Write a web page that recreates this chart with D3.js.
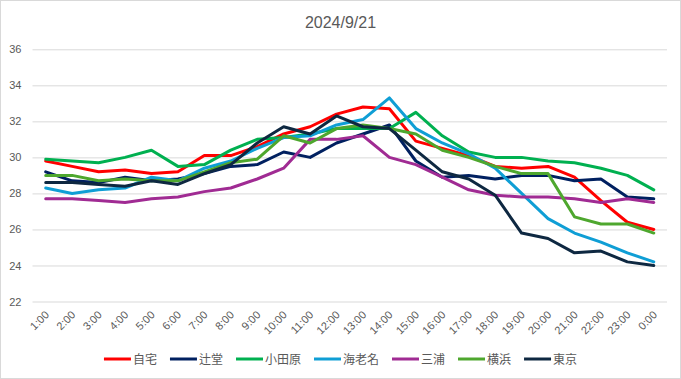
<!DOCTYPE html>
<html><head><meta charset="utf-8">
<script src="https://cdn.jsdelivr.net/npm/d3@7"></script>
<style>
html,body{margin:0;padding:0;background:#fff;}
svg{display:block;font-family:"Liberation Sans",Arial,"Noto Sans CJK JP",sans-serif;}
</style></head>
<body><svg id="c" width="681" height="379"></svg>
<script>
const categories = ["1:00","2:00","3:00","4:00","5:00","6:00","7:00","8:00","9:00","10:00","11:00","12:00","13:00","14:00","15:00","16:00","17:00","18:00","19:00","20:00","21:00","22:00","23:00","0:00"];
const seriesNames = ["自宅","辻堂","小田原","海老名","三浦","横浜","東京"];
const jitaku   = [29.8,29.5,29.2,29.3,29.1,29.2,30.1,30.1,30.6,31.3,31.7,32.4,32.8,32.7,30.9,30.5,30.1,29.5,29.4,29.5,28.9,27.6,26.4,26.0];
const tsujido  = [29.2,28.7,28.6,28.9,28.7,28.8,29.1,29.5,29.6,30.3,30.0,30.8,31.3,31.8,29.8,28.9,29.0,28.8,29.0,29.0,28.7,28.8,27.8,27.7];
const odawara  = [29.9,29.8,29.7,30.0,30.4,29.5,29.6,30.4,31.0,31.1,31.3,31.6,31.6,31.6,32.5,31.2,30.3,30.0,30.0,29.8,29.7,29.4,29.0,28.2];
const ebina    = [28.3,28.0,28.2,28.3,28.9,28.7,29.4,29.8,30.5,31.1,31.2,31.8,32.1,33.3,31.6,30.8,30.2,29.4,28.0,26.6,25.8,25.3,24.7,24.2];
const miura    = [27.7,27.7,27.6,27.5,27.7,27.8,28.1,28.3,28.8,29.4,31.0,31.0,31.2,30.0,29.6,28.9,28.2,27.9,27.8,27.8,27.7,27.5,27.7,27.5];
const yokohama = [29.0,29.0,28.7,28.8,28.7,28.7,29.2,29.7,29.9,31.2,30.8,31.6,31.8,31.6,31.3,30.4,30.0,29.5,29.1,29.1,26.7,26.3,26.3,25.8];
const tokyo    = [28.6,28.6,28.5,28.4,28.7,28.5,29.1,29.6,30.8,31.7,31.3,32.3,31.7,31.6,30.4,29.2,28.8,27.9,25.8,25.5,24.7,24.8,24.2,24.0];
const yTicks = [22,24,26,28,30,32,34,36];
const colors = ["#FF0000","#002060","#00B050","#0F9ED5","#A02B93","#4EA72E","#0E2841"];
const title = "2024/9/21";

const series = [jitaku,tsujido,odawara,ebina,miura,yokohama,tokyo];
const svg = d3.select("#c");
svg.append("rect").attr("x",0.5).attr("y",0.5).attr("width",680).attr("height",378)
  .attr("fill","#fff").attr("stroke","#d9d9d9");

const pLeft = 32.5, pRight = 667, pTop = 49.3, pBottom = 301.5;
const x = d3.scaleBand().domain(categories).range([pLeft,pRight]).padding(0);
const xc = d => x(d) + x.bandwidth()/2;
const y = d3.scaleLinear().domain([22,36]).range([pBottom,pTop]);

svg.append("text").attr("x",340.5).attr("y",28).attr("text-anchor","middle")
  .attr("font-size",16).attr("fill","#595959").text(title);

const gy = svg.append("g").attr("transform",`translate(${pLeft},0)`)
  .call(d3.axisLeft(y).tickValues(yTicks).tickSize(-(pRight-pLeft)).tickPadding(11).tickFormat(d3.format("d")));
gy.select(".domain").remove();
gy.selectAll(".tick line").attr("stroke","#d9d9d9").attr("stroke-width",1);
gy.selectAll(".tick text").attr("fill","#595959").attr("font-size",11).attr("font-family","inherit");

const gx = svg.append("g").attr("transform",`translate(0,${pBottom})`)
  .call(d3.axisBottom(x).tickSize(0).tickPadding(0));
gx.select(".domain").remove();
gx.selectAll(".tick text")
  .attr("fill","#595959").attr("font-size",11).attr("font-family","inherit")
  .attr("text-anchor","end").attr("dy",0).attr("y",0)
  .attr("transform","translate(4,14) rotate(-45)");

const line = d3.line().x((d,i)=>xc(categories[i])).y(d=>y(d));
series.forEach((s,k)=>{
  svg.append("path").datum(s).attr("d",line).attr("fill","none")
    .attr("stroke",colors[k]).attr("stroke-width",3).attr("stroke-linejoin","round").attr("stroke-linecap","round");
});

// legend
const lg = svg.append("g");
let lx = 0;
seriesNames.forEach((n,k)=>{
  const g = lg.append("g").attr("transform",`translate(${lx},0)`);
  g.append("line").attr("x1",0).attr("x2",27).attr("y1",0).attr("y2",0)
    .attr("stroke",colors[k]).attr("stroke-width",3);
  const t = g.append("text").attr("x",29).attr("y",4.5).attr("font-size",12).attr("fill","#595959").text(n);
  const w = t.node().getComputedTextLength();
  lx += 29 + w + 13;
});
const totalW = lx - 13;
lg.attr("transform",`translate(${(681-totalW)/2},359)`);
</script></body></html>
